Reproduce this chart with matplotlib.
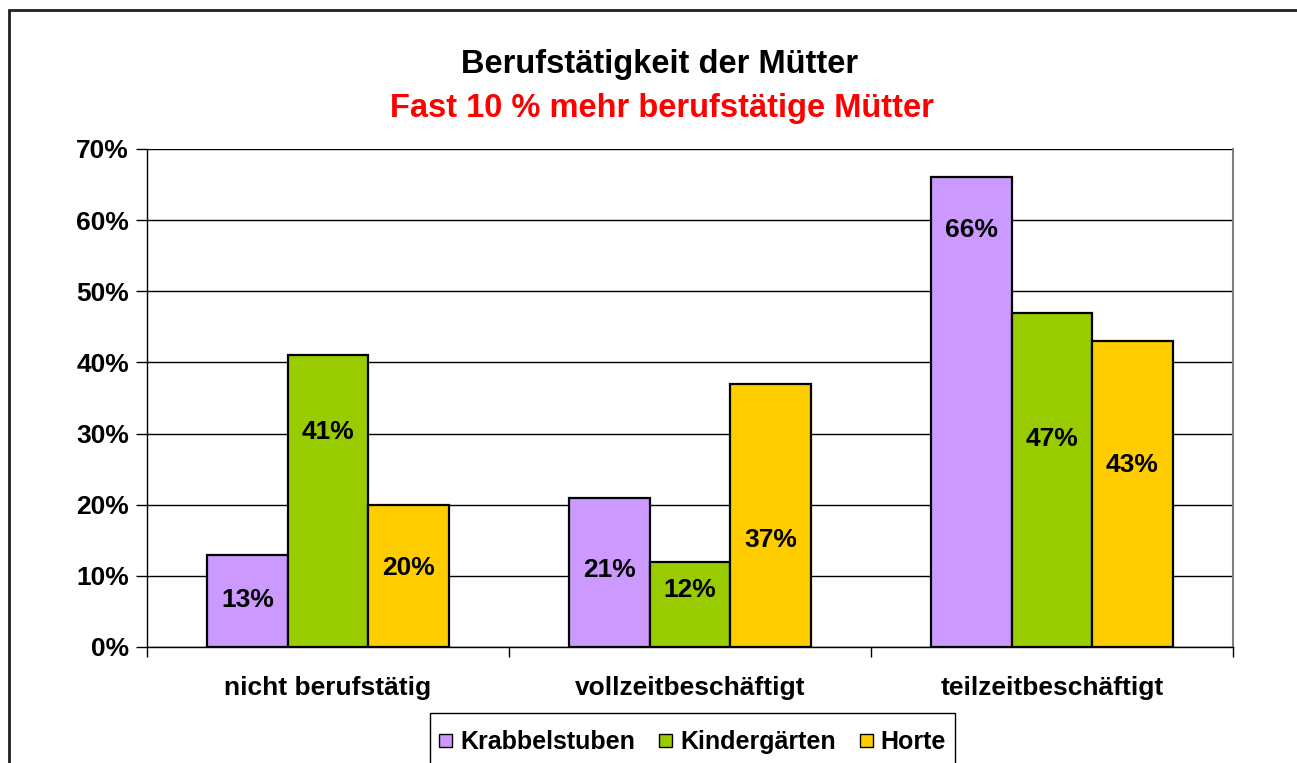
import matplotlib
matplotlib.use("Agg")
import matplotlib.pyplot as plt
import numpy as np
from matplotlib.patches import Rectangle
from matplotlib.legend_handler import HandlerPatch

categories = ["nicht berufstätig", "vollzeitbeschäftigt", "teilzeitbeschäftigt"]
series_names = ["Krabbelstuben", "Kindergärten", "Horte"]
krabbelstuben = [13, 21, 66]
kindergaerten = [41, 12, 47]
horte = [20, 37, 43]
series_values = [krabbelstuben, kindergaerten, horte]
# vertical placement of the value labels (in % units, as in the original)
label_y = [[6.6, 10.8, 58.6], [30.2, 8.0, 29.2], [11.1, 15.0, 25.6]]
colors = ["#CC99FF", "#99CC00", "#FFCC00"]
yticks = [0, 10, 20, 30, 40, 50, 60, 70]

plt.rcParams['font.family'] = ['Liberation Sans', 'DejaVu Sans']
plt.rcParams['font.weight'] = 'bold'

W, H = 1297, 763
fig = plt.figure(figsize=(W / 100, H / 100), dpi=100)
ax = fig.add_axes([147 / W, 1 - 647 / H, (1233 - 147) / W, (647 - 149) / H])

x = np.arange(len(categories))
bw = 0.2225
for i, (name, vals, col) in enumerate(zip(series_names, series_values, colors)):
    xs = x + (i - 1) * bw
    ax.bar(xs, vals, width=bw, color=col, edgecolor="black", linewidth=1.6,
           label=name, zorder=3)
    for xi, v, ly in zip(xs, vals, label_y[i]):
        ax.text(xi, ly, f"{v}%", ha="center", va="center", fontsize=19,
                fontweight="bold", zorder=4)

ax.set_xlim(-0.5, 2.5)
ax.set_ylim(0, 70)
ax.set_yticks(yticks)
ax.set_yticklabels([f"{t}%" for t in yticks], fontsize=19, fontweight="bold")
ax.yaxis.grid(True, color="black", linewidth=1.0, zorder=0)
ax.set_axisbelow(True)

ax.set_xticks(x)
ax.set_xticklabels(categories, fontsize=19, fontweight="bold")
ax.set_xticks([-0.5, 0.5, 1.5, 2.5], minor=True)
ax.tick_params(axis="x", which="major", length=0, pad=21)
ax.tick_params(axis="x", which="minor", length=7, width=1.0, color="black")
ax.tick_params(axis="y", which="major", length=8, width=1.0, pad=5)

for s in ["left", "bottom"]:
    ax.spines[s].set_color("black")
    ax.spines[s].set_linewidth(1.0)
ax.spines["top"].set_visible(False)
ax.spines["right"].set_color("#808080")
ax.spines["right"].set_linewidth(1.5)

fig.text(660 / W, 1 - 64 / H, "Berufstätigkeit der Mütter", ha="center", va="center",
         fontsize=23.5, fontweight="bold", color="black")
fig.text(662 / W, 1 - 109 / H, "Fast 10 % mehr berufstätige Mütter", ha="center",
         va="center", fontsize=23.5, fontweight="bold", color="#FF0000")


def small_square(legend, orig_handle, xdescent, ydescent, width, height, fontsize):
    s = 0.52 * fontsize
    return Rectangle((-xdescent + (width - s) / 2, -ydescent + (height - s) / 2), s, s)


legend_handles = [Rectangle((0, 0), 1, 1, facecolor=c, edgecolor="black", linewidth=1.0)
                  for c in colors]
leg = fig.legend(legend_handles, series_names,
                 loc="center", bbox_to_anchor=(692.5 / W, 1 - 742 / H),
                 ncol=3, fontsize=18, frameon=False,
                 handlelength=0.55, handleheight=0.7, handletextpad=0.3,
                 columnspacing=0.95, borderpad=0.0, borderaxespad=0,
                 handler_map={Rectangle: HandlerPatch(patch_func=small_square)})

# legend frame (bottom edge is cut off by the image border, as in the original)
fig.patches.append(Rectangle((430 / W, -0.05), (955 - 430) / W, (763 - 713) / H + 0.05,
                             transform=fig.transFigure, fill=False,
                             edgecolor="black", linewidth=1.0))

# outer chart border (left and top edges visible)
fig.patches.append(Rectangle((9 / W, -0.1), 1.2, 1 - 10 / H + 0.1,
                             transform=fig.transFigure, fill=False,
                             edgecolor="#202020", linewidth=2.0))

fig.savefig("out.png", dpi=100)
